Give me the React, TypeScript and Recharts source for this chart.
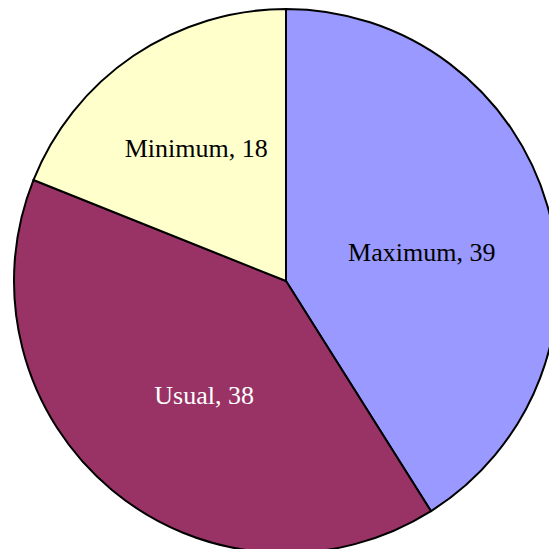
import React from "react";
import { PieChart, Pie, Cell } from "recharts";

const categories = ["Maximum", "Usual", "Minimum"];
const values = [39, 38, 18];
const colors = ["#9999FF", "#993366", "#FFFFCC"];
const labelColors = ["#000000", "#FFFFFF", "#000000"];

const data = categories.map((name, i) => ({ name, value: values[i] }));

const RAD = Math.PI / 180;

const renderLabel = (props: any) => {
  const { cx, cy, midAngle, outerRadius, startAngle, endAngle, index, name, value } = props;
  const theta = Math.abs(endAngle - startAngle) * RAD;
  const half = theta / 2;
  const rc = (2 / 3) * outerRadius * Math.sin(half) / half;
  const x = cx + rc * Math.cos(-midAngle * RAD);
  const y = cy + rc * Math.sin(-midAngle * RAD);
  return (
    <text
      x={x + 6}
      y={y + 9}
      fill={labelColors[index]}
      textAnchor="middle"
      dominantBaseline="central"
      fontFamily="'Liberation Serif', 'Times New Roman', serif"
      fontSize={26}
    >
      {`${name}, ${value}`}
    </text>
  );
};

export default function App() {
  return (
    <div style={{ position: "absolute", left: 0, top: 0, width: 549, height: 549, background: "#fff" }}>
      <PieChart width={549} height={549} margin={{ top: 0, right: 0, bottom: 0, left: 0 }}>
        <Pie
          data={data}
          dataKey="value"
          nameKey="name"
          cx={286}
          cy={281}
          outerRadius={272}
          startAngle={90}
          endAngle={-270}
          stroke="#000000"
          strokeWidth={2}
          label={renderLabel}
          labelLine={false}
          isAnimationActive={false}
        >
          {data.map((d, i) => (
            <Cell key={d.name} fill={colors[i]} />
          ))}
        </Pie>
      </PieChart>
    </div>
  );
}
